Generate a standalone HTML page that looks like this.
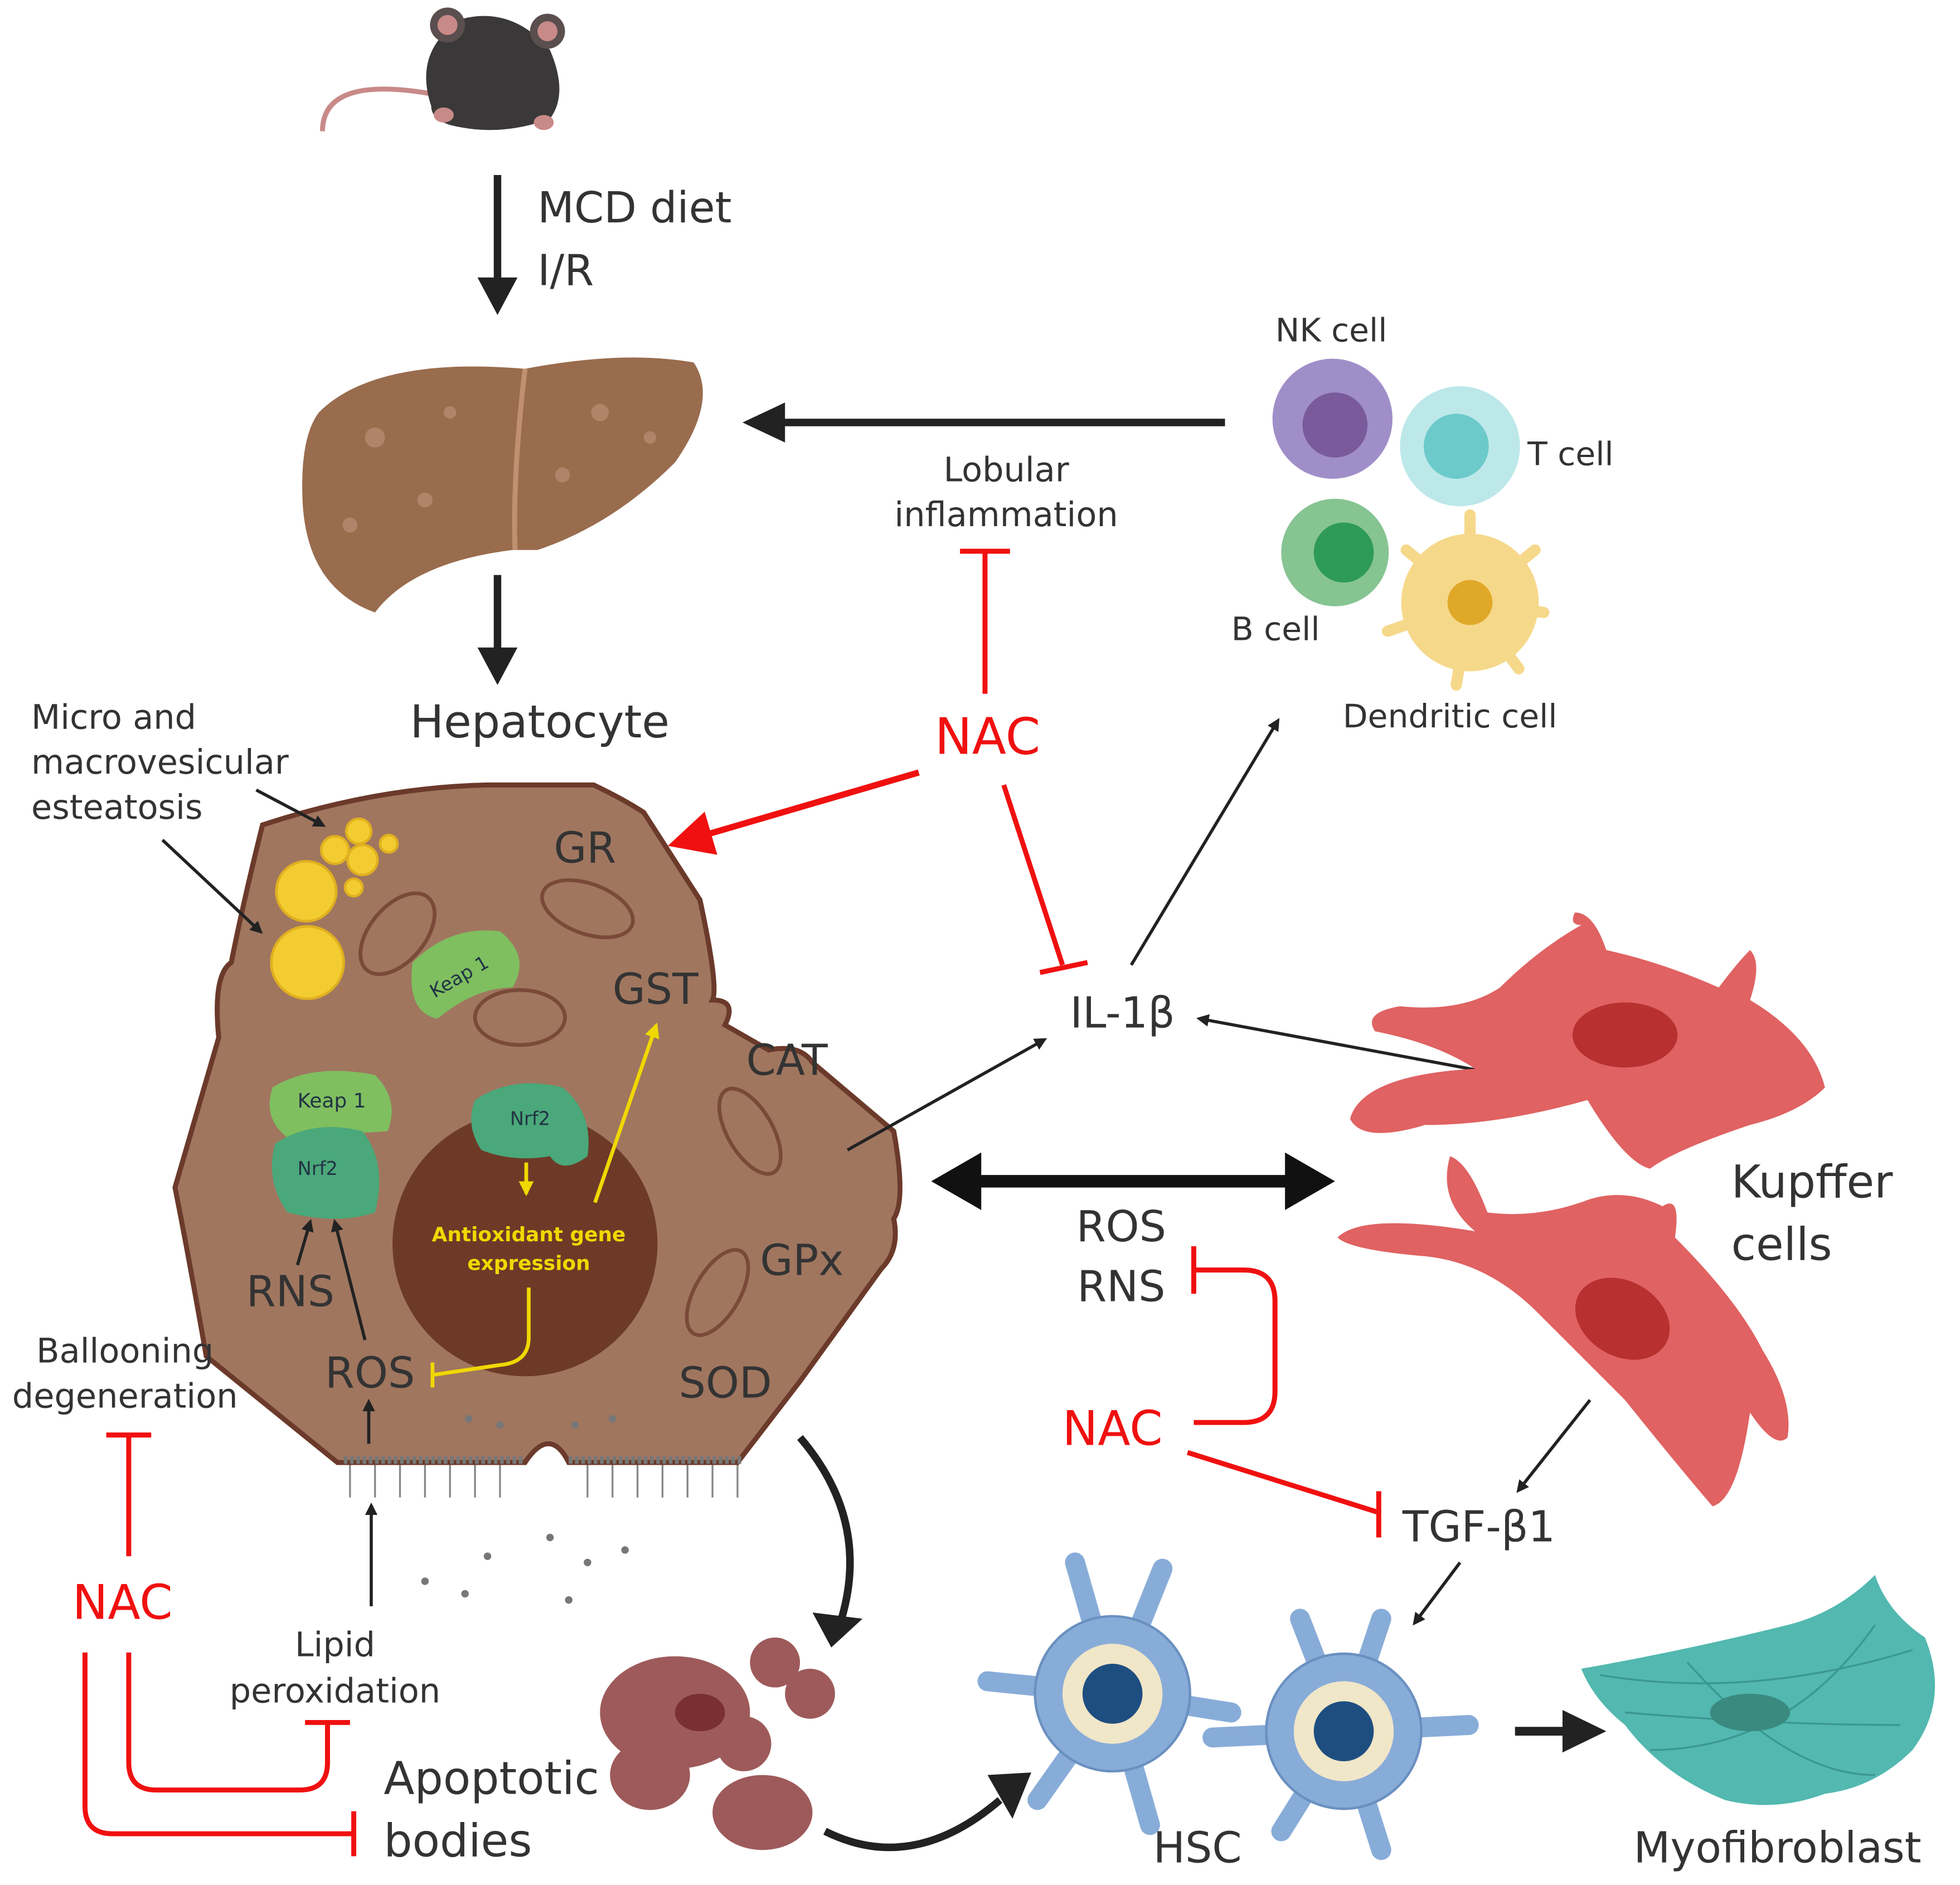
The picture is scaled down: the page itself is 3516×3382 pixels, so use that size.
<!DOCTYPE html>
<html><head><meta charset="utf-8"><style>
html,body{margin:0;padding:0;background:#fff;}
svg{display:block;}
text{font-family:"DejaVu Sans","Liberation Sans",sans-serif;}
</style></head><body>
<svg width="3516" height="3382" viewBox="0 0 1568 1508" preserveAspectRatio="none" xmlns="http://www.w3.org/2000/svg">
<defs>
<marker id="ab" markerWidth="10" markerHeight="10" refX="7" refY="5" orient="auto" markerUnits="userSpaceOnUse"><path d="M0,0 L10,5 L0,10 z" fill="#222"/></marker>
<marker id="ar" markerWidth="40" markerHeight="40" refX="30" refY="18" orient="auto" markerUnits="userSpaceOnUse"><path d="M0,0 L36,18 L0,36 z" fill="#f01010"/></marker>
<marker id="ay" markerWidth="14" markerHeight="14" refX="10" refY="6" orient="auto" markerUnits="userSpaceOnUse"><path d="M0,0 L12,6 L0,12 z" fill="#f0d800"/></marker>
</defs>

<!-- mouse -->
<path d="M345,75 Q258,60 258,105" stroke="#c88a88" stroke-width="4" fill="none"/>
<path d="M345,85 Q330,40 370,15 Q410,5 440,40 Q455,75 440,95 Q400,110 360,100 Q345,95 345,85 z" fill="#3a3838"/>
<circle cx="358" cy="20" r="14" fill="#5a4e4e"/><circle cx="438" cy="25" r="14" fill="#5a4e4e"/>
<circle cx="358" cy="20" r="8" fill="#c88a88"/><circle cx="438" cy="25" r="8" fill="#c88a88"/>
<ellipse cx="355" cy="92" rx="8" ry="6" fill="#c88a88"/><ellipse cx="435" cy="98" rx="8" ry="6" fill="#c88a88"/>

<!-- MCD arrow -->
<line x1="398" y1="140" x2="398" y2="225" stroke="#222" stroke-width="6"/>
<path d="M382,222 L414,222 L398,252 z" fill="#222"/>
<text x="430" y="178" font-size="34" fill="#333">MCD diet</text>
<text x="430" y="228" font-size="34" fill="#333">I/R</text>

<!-- liver -->
<path d="M255,330 Q300,285 420,295 Q500,280 555,290 Q575,320 540,370 Q490,420 430,440 L410,440 Q330,450 300,490 Q245,470 242,400 Q240,350 255,330 z" fill="#996c4e"/>
<path d="M420,295 Q410,380 412,440" stroke="#c09070" stroke-width="4" fill="none"/>
<g fill="#b08468"><circle cx="300" cy="350" r="8"/><circle cx="340" cy="400" r="6"/><circle cx="480" cy="330" r="7"/><circle cx="520" cy="350" r="5"/><circle cx="280" cy="420" r="6"/><circle cx="360" cy="330" r="5"/><circle cx="450" cy="380" r="6"/></g>
<line x1="398" y1="460" x2="398" y2="520" stroke="#222" stroke-width="6"/>
<path d="M382,518 L414,518 L398,548 z" fill="#222"/>
<text x="328" y="590" font-size="36" fill="#333">Hepatocyte</text>

<!-- left labels -->
<text font-size="27" fill="#333"><tspan x="25" y="583">Micro and</tspan><tspan x="25" y="619">macrovesicular</tspan><tspan x="25" y="655">esteatosis</tspan></text>

<!-- hepatocyte -->
<path d="M210,660 Q300,630 390,628 L475,628 Q500,640 515,650 L560,720 Q575,790 570,800 Q590,800 580,820 L615,840 Q640,835 650,850 L715,905 Q725,960 715,975 Q720,1000 705,1015 L640,1105 L590,1170 L455,1170 Q440,1140 420,1170 L270,1170 L165,1085 Q150,1000 140,950 L175,830 Q170,780 185,770 Q195,720 210,660 z" fill="#a0765f" stroke="#6b3a2a" stroke-width="4"/>
<line x1="205" y1="632" x2="258" y2="660" stroke="#222" stroke-width="2.5" marker-end="url(#ab)"/>
<line x1="130" y1="672" x2="208" y2="745" stroke="#222" stroke-width="2.5" marker-end="url(#ab)"/>
<circle cx="420" cy="995" r="106" fill="#6e3a28"/>
<!-- fat -->
<g fill="#f2cc30" stroke="#e0b020" stroke-width="2"><circle cx="245" cy="713" r="24"/><circle cx="246" cy="770" r="29"/><circle cx="268" cy="680" r="11"/><circle cx="290" cy="688" r="12"/><circle cx="287" cy="665" r="10"/><circle cx="311" cy="675" r="7"/><circle cx="283" cy="710" r="7"/></g>
<!-- mitochondria -->
<g fill="none" stroke="#7a4a38" stroke-width="3"><ellipse cx="318" cy="747" rx="22" ry="38" transform="rotate(40 318 747)"/><ellipse cx="470" cy="727" rx="38" ry="20" transform="rotate(20 470 727)"/><ellipse cx="416" cy="814" rx="36" ry="22"/><ellipse cx="600" cy="905" rx="18" ry="38" transform="rotate(-30 600 905)"/><ellipse cx="574" cy="1034" rx="18" ry="38" transform="rotate(30 574 1034)"/></g>
<!-- keap / nrf -->
<path d="M330,770 Q360,740 400,745 Q425,765 410,790 Q380,790 350,815 Q325,810 330,770 z" fill="#7fbf60"/>
<text x="340" y="790" font-size="15" fill="#234" transform="rotate(-30 360 780)">Keap 1</text>
<path d="M218,870 Q250,850 300,860 Q320,880 310,905 L230,910 Q210,895 218,870 z" fill="#7fbf60"/>
<text x="238" y="886" font-size="16" fill="#234">Keap 1</text>
<path d="M220,915 Q250,895 290,905 Q310,930 300,970 Q270,980 230,970 Q212,945 220,915 z" fill="#4aa87a"/>
<text x="238" y="940" font-size="15" fill="#234">Nrf2</text>
<path d="M380,880 Q410,860 450,870 Q475,890 470,925 Q450,940 440,925 Q410,930 385,920 Q372,900 380,880 z" fill="#4aa87a"/>
<text x="408" y="900" font-size="15" fill="#234">Nrf2</text>
<line x1="421" y1="930" x2="421" y2="955" stroke="#f0d800" stroke-width="3" marker-end="url(#ay)"/>
<text x="423" y="993" font-size="16" fill="#f0d800" text-anchor="middle" font-weight="bold">Antioxidant gene</text>
<text x="423" y="1016" font-size="16" fill="#f0d800" text-anchor="middle" font-weight="bold">expression</text>
<line x1="476" y1="962" x2="525" y2="820" stroke="#f0d800" stroke-width="3" marker-end="url(#ay)"/>
<path d="M423,1030 L423,1070 Q423,1090 400,1092 L346,1100" stroke="#f0d800" stroke-width="3" fill="none"/>
<line x1="346" y1="1090" x2="346" y2="1110" stroke="#f0d800" stroke-width="3"/>

<g font-size="34" fill="#333">
<text x="443" y="690">GR</text><text x="490" y="803">GST</text><text x="597" y="860">CAT</text><text x="608" y="1020">GPx</text><text x="543" y="1118">SOD</text><text x="197" y="1045">RNS</text><text x="260" y="1110">ROS</text></g>
<line x1="238" y1="1012" x2="248" y2="978" stroke="#222" stroke-width="2.5" marker-end="url(#ab)"/>
<line x1="292" y1="1072" x2="268" y2="978" stroke="#222" stroke-width="2.5" marker-end="url(#ab)"/>
<line x1="295" y1="1155" x2="295" y2="1122" stroke="#222" stroke-width="2.5" marker-end="url(#ab)"/>
<!-- membrane -->
<g stroke="#777" stroke-width="6" stroke-dasharray="3 2"><line x1="275" y1="1168" x2="420" y2="1168"/><line x1="455" y1="1168" x2="595" y2="1168"/></g>
<g stroke="#888" stroke-width="1.5"><line x1="280" y1="1172" x2="280" y2="1198"/><line x1="300" y1="1172" x2="300" y2="1198"/><line x1="320" y1="1172" x2="320" y2="1198"/><line x1="340" y1="1172" x2="340" y2="1198"/><line x1="360" y1="1172" x2="360" y2="1198"/><line x1="380" y1="1172" x2="380" y2="1198"/><line x1="400" y1="1172" x2="400" y2="1198"/><line x1="470" y1="1172" x2="470" y2="1198"/><line x1="490" y1="1172" x2="490" y2="1198"/><line x1="510" y1="1172" x2="510" y2="1198"/><line x1="530" y1="1172" x2="530" y2="1198"/><line x1="550" y1="1172" x2="550" y2="1198"/><line x1="570" y1="1172" x2="570" y2="1198"/><line x1="590" y1="1172" x2="590" y2="1198"/></g>
<g fill="#777"><circle cx="375" cy="1135" r="3"/><circle cx="400" cy="1140" r="3"/><circle cx="460" cy="1140" r="3"/><circle cx="490" cy="1135" r="3"/><circle cx="440" cy="1230" r="3"/><circle cx="470" cy="1250" r="3"/><circle cx="390" cy="1245" r="3"/><circle cx="340" cy="1265" r="3"/><circle cx="455" cy="1280" r="3"/><circle cx="372" cy="1275" r="3"/><circle cx="500" cy="1240" r="3"/></g>
<line x1="297" y1="1285" x2="297" y2="1205" stroke="#222" stroke-width="2.5" marker-end="url(#ab)"/>
<text x="268" y="1325" font-size="27" fill="#333" text-anchor="middle">Lipid</text>
<text x="268" y="1362" font-size="27" fill="#333" text-anchor="middle">peroxidation</text>

<!-- ballooning -->
<text x="100" y="1090" font-size="27" fill="#333" text-anchor="middle">Ballooning</text>
<text x="100" y="1126" font-size="27" fill="#333" text-anchor="middle">degeneration</text>
<line x1="103" y1="1245" x2="103" y2="1148" stroke="#f01010" stroke-width="4"/>
<line x1="85" y1="1148" x2="121" y2="1148" stroke="#f01010" stroke-width="4"/>
<text x="98" y="1295" font-size="38" fill="#f01010" text-anchor="middle">NAC</text>
<path d="M103,1322 L103,1410 Q103,1432 125,1432 L240,1432 Q262,1432 262,1410 L262,1378" stroke="#f01010" stroke-width="4" fill="none"/>
<line x1="244" y1="1378" x2="280" y2="1378" stroke="#f01010" stroke-width="4"/>
<path d="M68,1322 L68,1445 Q68,1467 90,1467 L283,1467" stroke="#f01010" stroke-width="4" fill="none"/>
<line x1="283" y1="1449" x2="283" y2="1485" stroke="#f01010" stroke-width="4"/>
<text x="307" y="1435" font-size="36" fill="#333">Apoptotic</text>
<text x="307" y="1485" font-size="36" fill="#333">bodies</text>

<!-- apoptotic bodies -->
<g fill="#9e5a5a"><ellipse cx="540" cy="1370" rx="60" ry="45"/><circle cx="620" cy="1330" r="20"/><circle cx="648" cy="1355" r="20"/><ellipse cx="610" cy="1450" rx="40" ry="30"/><ellipse cx="520" cy="1420" rx="32" ry="28"/><circle cx="595" cy="1395" r="22"/></g>
<ellipse cx="560" cy="1370" rx="20" ry="15" fill="#7a3030"/>
<path d="M640,1150 Q700,1220 670,1305" stroke="#222" stroke-width="6" fill="none"/>
<path d="M650,1290 L690,1295 L665,1318 z" fill="#222"/>
<path d="M660,1465 Q730,1500 800,1440" stroke="#222" stroke-width="6" fill="none"/>
<path d="M790,1420 L825,1418 L810,1455 z" fill="#222"/>

<!-- NAC center -->
<text x="790" y="603" font-size="40" fill="#f01010" text-anchor="middle">NAC</text>
<line x1="788" y1="555" x2="788" y2="441" stroke="#f01010" stroke-width="4"/>
<line x1="768" y1="441" x2="808" y2="441" stroke="#f01010" stroke-width="4"/>
<text x="805" y="385" font-size="27" fill="#333" text-anchor="middle">Lobular</text>
<text x="805" y="421" font-size="27" fill="#333" text-anchor="middle">inflammation</text>
<line x1="735" y1="618" x2="540" y2="675" stroke="#f01010" stroke-width="5" marker-end="url(#ar)"/>
<line x1="803" y1="628" x2="850" y2="772" stroke="#f01010" stroke-width="4"/>
<line x1="832" y1="778" x2="870" y2="770" stroke="#f01010" stroke-width="4"/>
<line x1="980" y1="338" x2="625" y2="338" stroke="#222" stroke-width="6"/>
<path d="M628,322 L594,338 L628,354 z" fill="#222"/>

<text x="898" y="822" font-size="34" fill="#333" text-anchor="middle">IL-1β</text>
<line x1="678" y1="920" x2="835" y2="832" stroke="#222" stroke-width="2.5" marker-end="url(#ab)"/>
<line x1="905" y1="772" x2="1022" y2="577" stroke="#222" stroke-width="2.5" marker-end="url(#ab)"/>
<line x1="1192" y1="858" x2="960" y2="815" stroke="#222" stroke-width="2.5" marker-end="url(#ab)"/>

<!-- immune cells -->
<text x="1065" y="273" font-size="26" fill="#333" text-anchor="middle">NK cell</text>
<circle cx="1066" cy="335" r="48" fill="#a08ec8"/><circle cx="1068" cy="340" r="26" fill="#7a5a9a"/>
<circle cx="1168" cy="357" r="48" fill="#bde8ea"/><circle cx="1165" cy="357" r="26" fill="#6ccaca"/>
<text x="1222" y="372" font-size="26" fill="#333">T cell</text>
<circle cx="1068" cy="442" r="43" fill="#86c492"/><circle cx="1075" cy="442" r="24" fill="#2e9a5a"/>
<text x="985" y="512" font-size="26" fill="#333">B cell</text>
<g stroke="#f6d88a" stroke-width="9" stroke-linecap="round"><line x1="1176" y1="482" x2="1176" y2="412"/><line x1="1176" y1="482" x2="1235" y2="490"/><line x1="1176" y1="482" x2="1110" y2="505"/><line x1="1176" y1="482" x2="1165" y2="548"/><line x1="1176" y1="482" x2="1228" y2="440"/><line x1="1176" y1="482" x2="1125" y2="440"/><line x1="1176" y1="482" x2="1215" y2="535"/></g>
<circle cx="1176" cy="482" r="55" fill="#f6d88a"/><circle cx="1176" cy="482" r="18" fill="#e0a828"/>
<text x="1160" y="582" font-size="26" fill="#333" text-anchor="middle">Dendritic cell</text>

<!-- double arrow -->
<line x1="780" y1="945" x2="1030" y2="945" stroke="#111" stroke-width="10"/>
<path d="M745,945 L785,922 L785,968 z" fill="#111"/><path d="M1068,945 L1028,922 L1028,968 z" fill="#111"/>

<!-- kupffer -->
<g fill="#e06262">
<path d="M1080,895 Q1090,860 1180,855 Q1150,835 1100,825 Q1090,810 1120,805 Q1170,810 1200,790 Q1230,760 1265,740 Q1255,740 1260,730 Q1275,730 1285,760 Q1330,770 1375,790 Q1390,770 1400,760 Q1410,770 1400,800 Q1450,830 1460,870 Q1440,890 1400,900 Q1340,920 1320,935 Q1300,930 1270,880 Q1200,900 1140,900 Q1090,915 1080,895 z"/>
<path d="M1070,990 Q1090,970 1180,985 Q1150,960 1160,925 Q1175,930 1190,970 Q1230,975 1270,960 Q1300,950 1330,965 Q1345,955 1340,990 Q1390,1040 1410,1080 Q1435,1120 1430,1150 Q1420,1160 1400,1130 Q1390,1200 1370,1205 Q1340,1170 1300,1120 Q1260,1080 1230,1050 Q1190,1010 1140,1005 Q1080,1000 1070,990 z"/>
</g>
<ellipse cx="1300" cy="828" rx="42" ry="26" fill="#b83030"/>
<ellipse cx="1298" cy="1055" rx="40" ry="30" fill="#b83030" transform="rotate(30 1298 1055)"/>
<text x="1385" y="958" font-size="36" fill="#333">Kupffer</text>
<text x="1385" y="1008" font-size="36" fill="#333">cells</text>

<!-- ROS RNS NAC right -->
<text x="897" y="993" font-size="34" fill="#333" text-anchor="middle">ROS</text>
<text x="897" y="1041" font-size="34" fill="#333" text-anchor="middle">RNS</text>
<path d="M955,1016 L995,1016 Q1020,1016 1020,1041 L1020,1113 Q1020,1138 995,1138 L955,1138" stroke="#f01010" stroke-width="4" fill="none"/>
<line x1="955" y1="997" x2="955" y2="1035" stroke="#f01010" stroke-width="4"/>
<text x="890" y="1156" font-size="38" fill="#f01010" text-anchor="middle">NAC</text>
<line x1="950" y1="1162" x2="1103" y2="1210" stroke="#f01010" stroke-width="4"/>
<line x1="1103" y1="1193" x2="1103" y2="1230" stroke="#f01010" stroke-width="4"/>
<text x="1122" y="1233" font-size="34" fill="#333">TGF-β1</text>
<line x1="1272" y1="1120" x2="1215" y2="1192" stroke="#222" stroke-width="2.5" marker-end="url(#ab)"/>
<line x1="1168" y1="1250" x2="1132" y2="1298" stroke="#222" stroke-width="2.5" marker-end="url(#ab)"/>

<!-- HSC -->
<g stroke="#88acd8" stroke-width="16" stroke-linecap="round">
<line x1="890" y1="1355" x2="860" y2="1250"/><line x1="890" y1="1355" x2="930" y2="1255"/><line x1="890" y1="1355" x2="790" y2="1345"/><line x1="890" y1="1355" x2="985" y2="1370"/><line x1="890" y1="1355" x2="830" y2="1440"/><line x1="890" y1="1355" x2="920" y2="1460"/>
<line x1="1075" y1="1385" x2="1040" y2="1295"/><line x1="1075" y1="1385" x2="1105" y2="1295"/><line x1="1075" y1="1385" x2="970" y2="1390"/><line x1="1075" y1="1385" x2="1175" y2="1380"/><line x1="1075" y1="1385" x2="1105" y2="1480"/><line x1="1075" y1="1385" x2="1025" y2="1465"/></g>
<g fill="#88acd8" stroke="#6a90c0" stroke-width="2">
<circle cx="890" cy="1355" r="62"/><circle cx="1075" cy="1385" r="62"/></g>
<g fill="#f0e6c8"><circle cx="890" cy="1355" r="40"/><circle cx="1075" cy="1385" r="40"/></g>
<circle cx="890" cy="1355" r="24" fill="#1e4e80"/><circle cx="1075" cy="1385" r="24" fill="#1e4e80"/>
<text x="958" y="1490" font-size="34" fill="#333" text-anchor="middle">HSC</text>
<line x1="1212" y1="1385" x2="1255" y2="1385" stroke="#222" stroke-width="7"/>
<path d="M1250,1368 L1285,1385 L1250,1402 z" fill="#222"/>

<!-- myofibroblast -->
<path d="M1265,1335 Q1350,1320 1430,1300 Q1470,1290 1500,1260 Q1510,1290 1540,1310 Q1560,1360 1530,1400 Q1500,1430 1460,1435 Q1420,1450 1380,1440 Q1330,1420 1300,1380 Q1275,1360 1265,1335 z" fill="#52b8b0"/>
<g stroke="#3a9890" stroke-width="1.5" fill="none"><path d="M1280,1340 Q1400,1360 1530,1320"/><path d="M1300,1370 Q1420,1380 1520,1380"/><path d="M1320,1400 Q1430,1400 1500,1300"/><path d="M1350,1330 Q1430,1420 1500,1420"/></g>
<ellipse cx="1400" cy="1370" rx="32" ry="15" fill="#3a8a80"/>
<text x="1422" y="1490" font-size="34" fill="#333" text-anchor="middle">Myofibroblast</text>
</svg>
</body></html>
